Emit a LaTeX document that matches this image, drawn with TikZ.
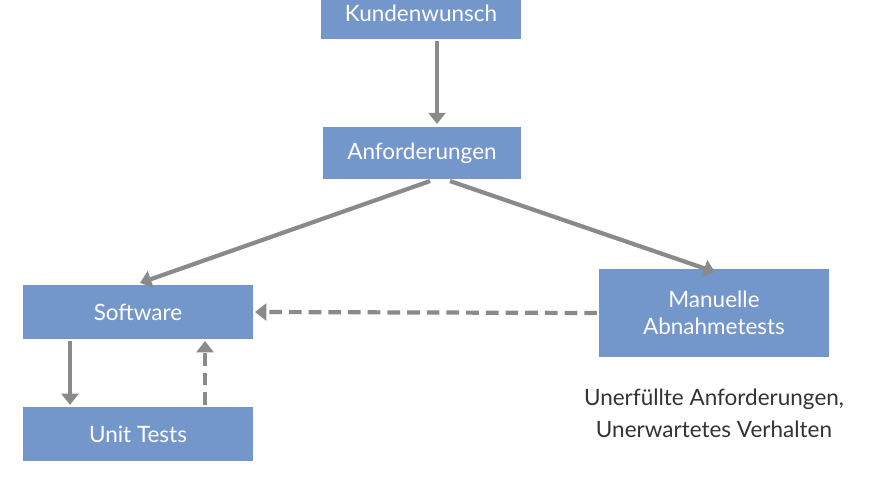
\documentclass[tikz,border=0pt]{standalone}
\usepackage{fontspec}
\setmainfont{Lato}
\usetikzlibrary{shadows,arrows.meta}
\definecolor{boxblue}{HTML}{7397CB}
\definecolor{arrowgray}{HTML}{8A8A8A}
\definecolor{textgray}{HTML}{333333}
\tikzset{
  box/.style={draw=white,line width=1.5pt,fill=boxblue,text=white,align=center,
    inner sep=0pt,font=\fontsize{16}{19}\selectfont,drop shadow={opacity=0.35,shadow xshift=1pt,shadow yshift=-1pt}},
  flow/.style={draw=arrowgray,line width=3pt,-{Triangle[length=8pt,width=12pt]}},
  back/.style={flow,dash pattern=on 9pt off 5pt}
}
\begin{document}
\begin{tikzpicture}[x=0.025cm,y=-0.025cm]
\useasboundingbox (0,0) rectangle (880,480);
% boxes
\node[box,minimum width=202*0.025cm,minimum height=54*0.025cm] (wunsch) at (421,13) {Kundenwunsch};
\node[box,minimum width=200*0.025cm,minimum height=54*0.025cm] (anf) at (422,153) {Anforderungen};
\node[box,minimum width=232*0.025cm,minimum height=56*0.025cm] (sw) at (138,312) {Software};
\node[box,minimum width=232*0.025cm,minimum height=90*0.025cm] (manuell) at (714,313) {Manuelle\\Abnahmetests};
\node[box,minimum width=232*0.025cm,minimum height=56*0.025cm] (unit) at (138,434) {Unit Tests};
\node[text=textgray,align=center,font=\fontsize{16}{23}\selectfont] (fehler) at (714,413) {Unerfüllte Anforderungen,\\Unerwartetes Verhalten};
% connectors
\draw[flow] (wunsch.south -| 437,0) -- (437,124);
\draw[flow] (anf.south) ++(8,0) -- (140,283);
\draw[flow] (anf.south) ++(28,0) -- (715,272);
\draw[back] (manuell.west) -- (sw.east);
\draw[flow] (sw.south -| 70,0) -- (unit.north -| 70,0);
\draw[back] (unit.north -| 205,0) -- (sw.south -| 205,0);
\end{tikzpicture}
\end{document}
